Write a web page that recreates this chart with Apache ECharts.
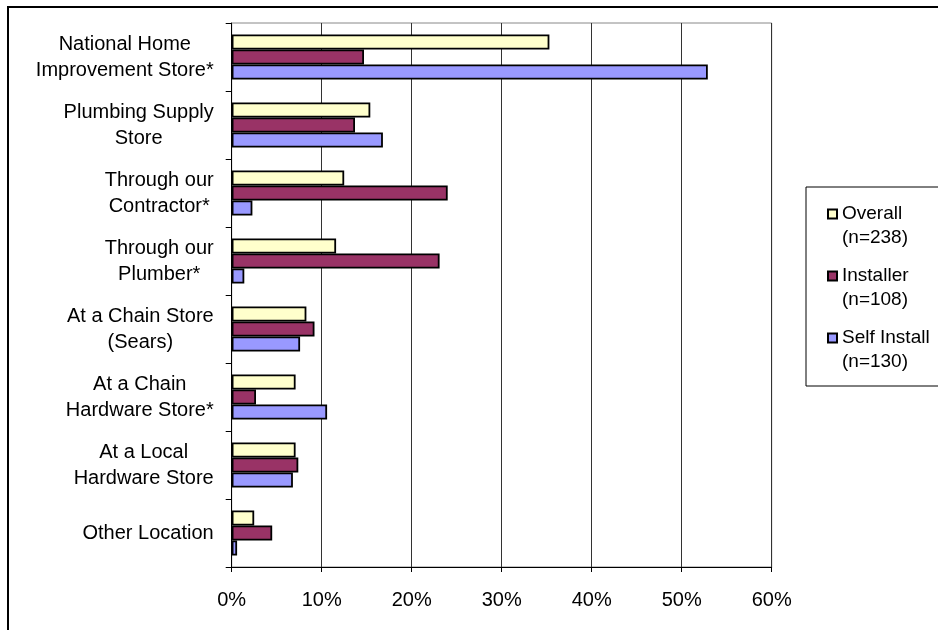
<!DOCTYPE html>
<html>
<head>
<meta charset="utf-8">
<script src="https://cdn.jsdelivr.net/npm/echarts@6/dist/echarts.min.js"></script>
<style>
html,body{margin:0;padding:0;background:#fff;}
#chart{width:938px;height:630px;}
</style>
</head>
<body>
<div id="chart"></div>
<script>
var categories = [
  "National Home\nImprovement Store*",
  "Plumbing Supply\nStore",
  "Through our\nContractor*",
  "Through our\nPlumber*",
  "At a Chain Store\n(Sears)",
  "At a Chain\nHardware Store*",
  "At a Local\nHardware Store",
  "Other Location"
];
var seriesNames = ["Overall\n(n=238)", "Installer\n(n=108)", "Self Install\n(n=130)"];
var overallValues = [35.3, 15.4, 12.5, 11.6, 8.3, 7.1, 7.1, 2.5];
var installerValues = [14.7, 13.7, 24.0, 23.1, 9.2, 2.7, 7.4, 4.5];
var selfInstallValues = [52.9, 16.8, 2.3, 1.4, 7.6, 10.6, 6.8, 0.6];
var xTickMin = 0, xTickMax = 60, xTickStep = 10;

var FONT = "'Liberation Sans', Arial, sans-serif";
var colors = ["#FFFFCC", "#993366", "#9999FF"];
var legendIcon = "path://M0,0L9,0L9,9L0,9ZM0,33";

function makeSeries(name, data, color) {
  return {
    name: name,
    type: "bar",
    data: data,
    barGap: "0%",
    barCategoryGap: "34%",
    itemStyle: { color: color, borderColor: "#000", borderWidth: 1.8 },
    emphasis: { disabled: true },
    animation: false
  };
}

var chart = echarts.init(document.getElementById("chart"), null, { renderer: "canvas" });
chart.setOption({
  backgroundColor: "#fff",
  animation: false,
  textStyle: { fontFamily: FONT },
  graphic: [{
    type: "rect",
    shape: { x: 8, y: 7, width: 1000, height: 1000 },
    style: { fill: "none", stroke: "#000", lineWidth: 2 },
    z: 100
  }],
  grid: {
    left: 231.7, top: 23, right: 166.3, bottom: 63,
    show: true, borderColor: "#888", borderWidth: 1, backgroundColor: "transparent"
  },
  legend: {
    orient: "vertical",
    left: 806, top: 187,
    padding: [15, 30, 12, 21],
    itemGap: 14,
    itemWidth: 9, itemHeight: 33,
    icon: legendIcon,
    borderColor: "#000", borderWidth: 1,
    textStyle: { fontFamily: FONT, fontSize: 19, lineHeight: 24, color: "#000" },
    selectedMode: false,
    data: seriesNames
  },
  xAxis: {
    type: "value",
    min: xTickMin, max: xTickMax, interval: xTickStep,
    axisLine: { show: true, lineStyle: { color: "#000", width: 1 } },
    axisTick: { show: true, length: 5, lineStyle: { color: "#000" } },
    axisLabel: { formatter: "{value}%", fontFamily: FONT, fontSize: 20, color: "#000", margin: 23 },
    splitLine: { show: true, lineStyle: { color: "#333", width: 1 } }
  },
  yAxis: {
    type: "category",
    inverse: true,
    data: categories,
    axisLine: { show: true, lineStyle: { color: "#000", width: 1 } },
    axisTick: { show: true, length: 6, lineStyle: { color: "#000" } },
    axisLabel: {
      margin: 18,
      fontFamily: FONT, fontSize: 20, lineHeight: 26, color: "#000",
      formatter: function (v) {
        return v.split("\n").map(function (s) { return "{c|" + s + "}"; }).join("\n");
      },
      rich: { c: { align: "center", fontFamily: FONT, fontSize: 20, lineHeight: 26, color: "#000" } }
    }
  },
  series: [
    makeSeries(seriesNames[0], overallValues, colors[0]),
    makeSeries(seriesNames[1], installerValues, colors[1]),
    makeSeries(seriesNames[2], selfInstallValues, colors[2])
  ]
});
</script>
</body>
</html>
